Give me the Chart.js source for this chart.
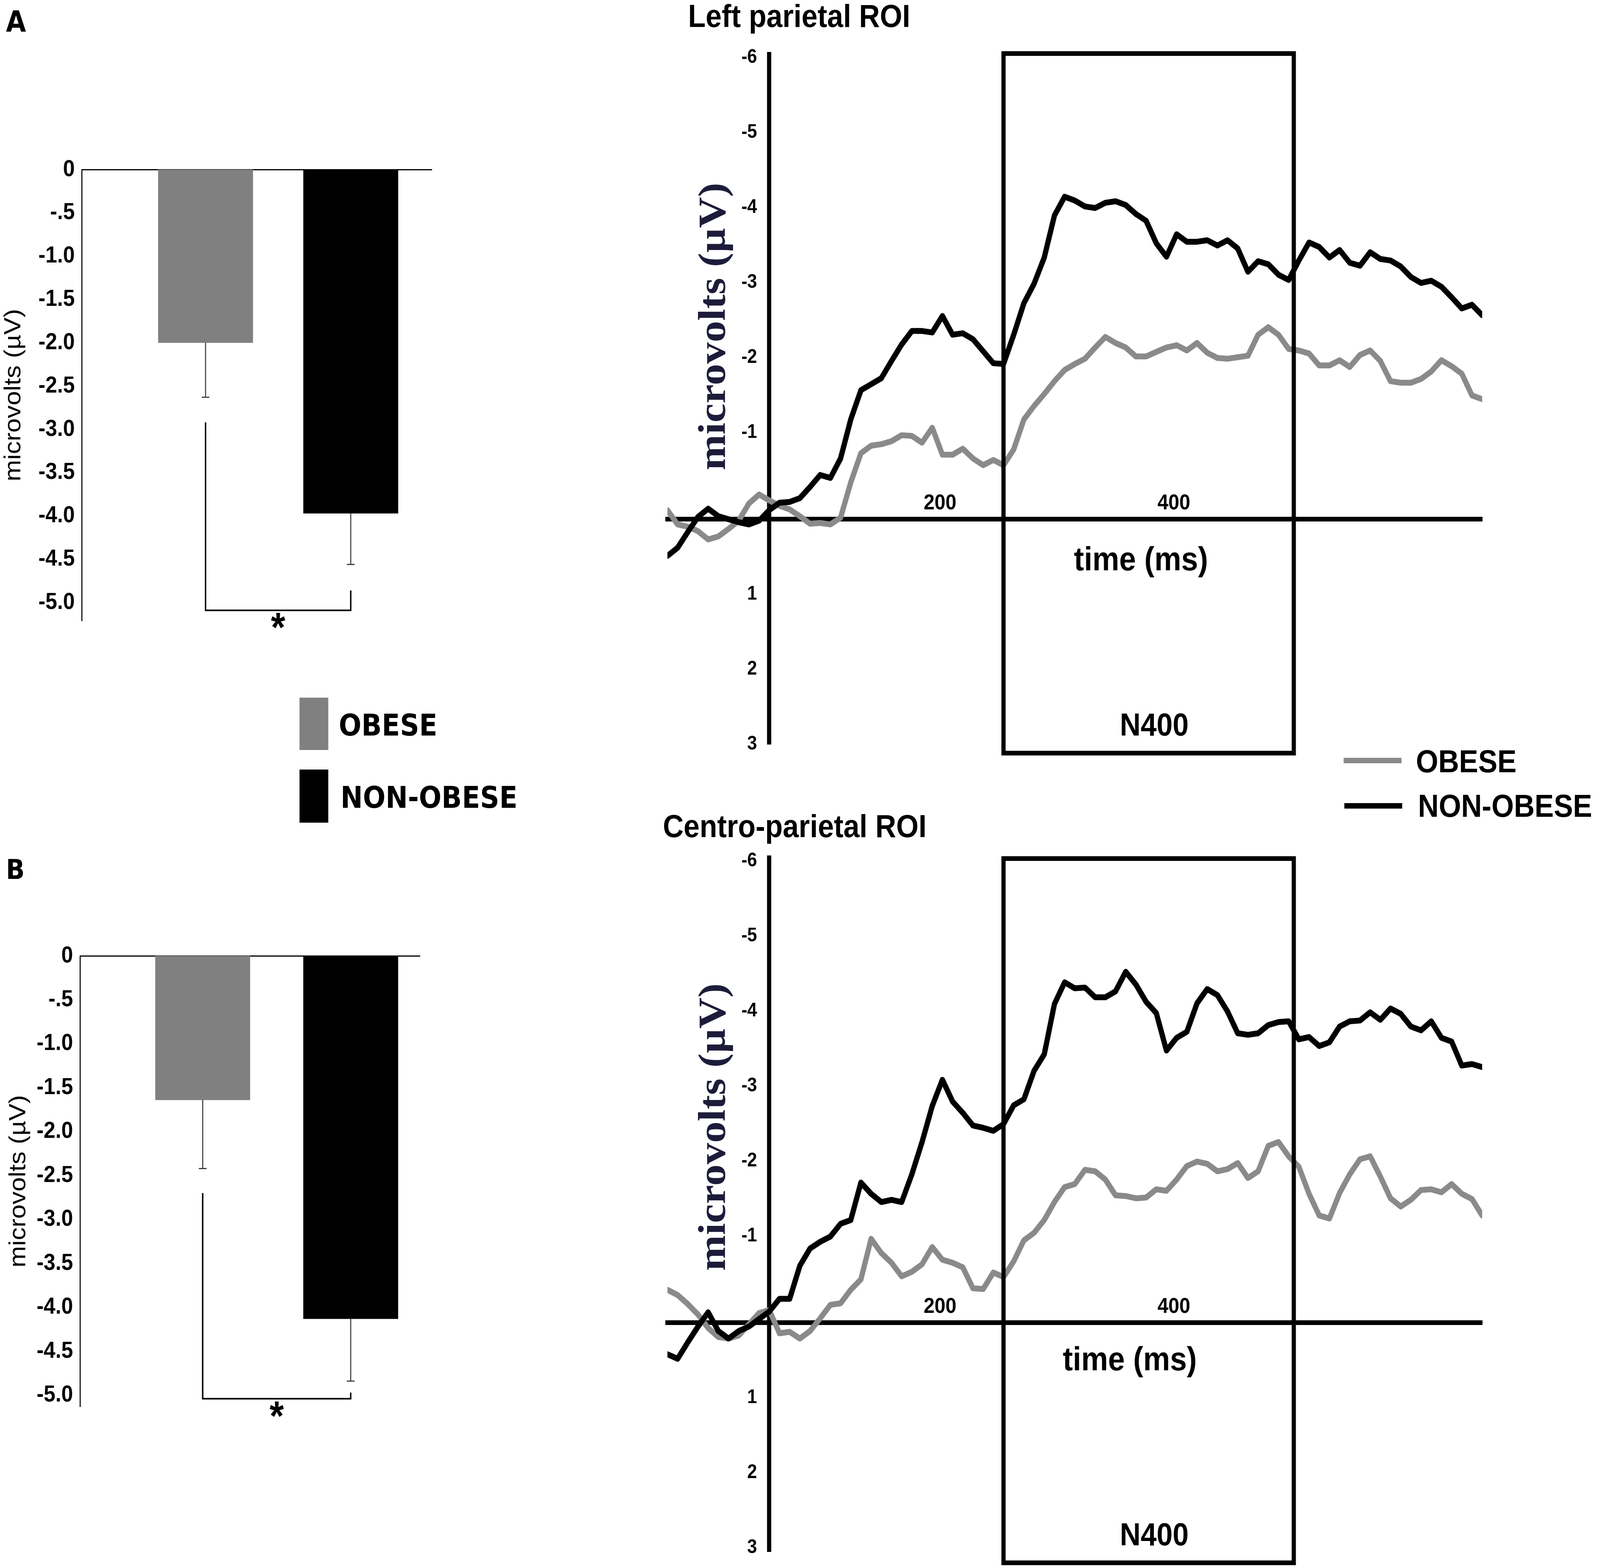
<!DOCTYPE html>
<html>
<head>
<meta charset="utf-8">
<title>N400 amplitude: obese vs non-obese</title>
<script src="https://cdn.jsdelivr.net/npm/chart.js@4.4.1/dist/chart.umd.min.js"></script>
<style>
  html, body { margin: 0; padding: 0; background: #fff; overflow: hidden; }
  body { position: relative; width: 4562px; height: 4009px; }
  #page { position: absolute; left: 0; top: 0; width: 4562px; height: 4009px; transform-origin: 0 0; }
  canvas { position: absolute; }
  .txt { position: absolute; white-space: nowrap; line-height: 1; font-weight: bold; color: #000;
         font-family: "Liberation Sans", Arial, sans-serif; }
  .heavy { font-family: "DejaVu Sans", Verdana, sans-serif; }
  .swatch, .stroke { position: absolute; }
</style>
</head>
<body>
<div id="page">
<div class="txt heavy" style="left:17px;top:18px;font-size:74px">A</div>
<div class="txt heavy" style="left:17px;top:2191px;font-size:70px">B</div>
<div class="txt" style="left:1962px;top:0px;font-size:82px">Left parietal ROI</div>
<div class="txt" style="left:1890px;top:2074px;font-size:82px">Centro-parietal ROI</div>

<!-- bar legend -->
<div class="swatch" id="sw0" style="left:854px;top:1786px;width:82px;height:134px"></div>
<div class="txt heavy" id="lg0" style="left:966px;top:1819px;font-size:76px"></div>
<div class="swatch" id="sw1" style="left:854px;top:1970px;width:82px;height:136px"></div>
<div class="txt heavy" id="lg1" style="left:971px;top:2004px;font-size:76px"></div>

<!-- line legend -->
<div class="stroke" id="ln0" style="left:3831px;top:1940px;width:165px;height:14px"></div>
<div class="txt" id="ll0" style="left:4037px;top:1908px;font-size:82px"></div>
<div class="stroke" id="ln1" style="left:3833px;top:2056px;width:165px;height:14px"></div>
<div class="txt" id="ll1" style="left:4043px;top:2022px;font-size:82px"></div>

<canvas id="barA" width="1300" height="1400" style="left:0px;top:300px;width:1300px;height:1400px"></canvas>
<canvas id="barB" width="1286" height="1600" style="left:14px;top:2100px;width:1286px;height:1600px"></canvas>
<canvas id="erpA" width="2430" height="2000" style="left:1850px;top:0px;width:2430px;height:2000px"></canvas>
<canvas id="erpB" width="2430" height="1959" style="left:1850px;top:2050px;width:2430px;height:1959px"></canvas>
</div>

<script>
// the figure is laid out on a 4562 x 4009 sheet; stretch it over whatever the window gives
const sx = window.innerWidth / 4562, sy = window.innerHeight / 4009;
document.getElementById('page').style.transform = 'scale(' + sx + ',' + sy + ')';
document.body.style.width = window.innerWidth + 'px';
document.body.style.height = window.innerHeight + 'px';

Chart.defaults.font.family = '"Liberation Sans", Arial, sans-serif';
Chart.defaults.color = '#000';

const groups = ['OBESE', 'NON-OBESE'];
const barColors = ['#808080', '#000000'];
const lineColors = ['#8a8a8a', '#000000'];

// mean N400 amplitude (µV) with lower end of the error bar
const meanLeft = [-2.0, -3.97];
const errLeft = [-2.63, -4.56];
const meanCentro = [-1.64, -4.13];
const errCentro = [-2.42, -4.84];
// significance bracket: left top, right top, base
const sigLeft = [-2.92, -4.86, -5.09];
const sigCentro = [-2.70, -4.97, -5.04];

const barTicks = [0, -0.5, -1.0, -1.5, -2.0, -2.5, -3.0, -3.5, -4.0, -4.5, -5.0];
const barTickLabels = ['0', '-.5', '-1.0', '-1.5', '-2.0', '-2.5', '-3.0', '-3.5', '-4.0', '-4.5', '-5.0'];

// ERP waveforms, time in ms
const times = [
  -100, -90, -80, -70, -60, -50, -40, -30, -20, -10,
  0, 10, 20, 30, 40, 50, 60, 70, 80, 90,
  100, 110, 120, 130, 140, 150, 160, 170, 180, 190,
  200, 210, 220, 230, 240, 250, 260, 270, 280, 290,
  300, 310, 320, 330, 340, 350, 360, 370, 380, 390,
  400, 410, 420, 430, 440, 450, 460, 470, 480, 490,
  500, 510, 520, 530, 540, 550, 560, 570, 580, 590,
  600, 610, 620, 630, 640, 650, 660, 670, 680, 690,
  700
];
const leftObese = [
  -0.12, 0.07, 0.10, 0.16, 0.27, 0.23, 0.13, 0.02, -0.21, -0.33,
  -0.25, -0.18, -0.13, -0.04, 0.06, 0.05, 0.07, -0.02, -0.49, -0.88,
  -0.98, -1.00, -1.04, -1.12, -1.11, -1.02, -1.22, -0.86, -0.86, -0.94,
  -0.81, -0.72, -0.79, -0.72, -0.93, -1.33, -1.51, -1.67, -1.84, -1.99,
  -2.07, -2.14, -2.29, -2.43, -2.35, -2.29, -2.17, -2.17, -2.23, -2.29,
  -2.32, -2.25, -2.35, -2.22, -2.15, -2.14, -2.16, -2.18, -2.46, -2.56,
  -2.46, -2.27, -2.25, -2.21, -2.05, -2.05, -2.12, -2.03, -2.19, -2.25,
  -2.11, -1.84, -1.82, -1.82, -1.87, -1.97, -2.12, -2.04, -1.94, -1.65,
  -1.60
];
const leftNonObese = [
  0.49, 0.38, 0.17, -0.03, -0.14, -0.04, 0.00, 0.04, 0.07, 0.02,
  -0.12, -0.22, -0.23, -0.28, -0.43, -0.59, -0.55, -0.81, -1.33, -1.72,
  -1.80, -1.88, -2.11, -2.33, -2.51, -2.51, -2.49, -2.71, -2.46, -2.48,
  -2.40, -2.24, -2.08, -2.07, -2.46, -2.88, -3.14, -3.49, -4.05, -4.30,
  -4.25, -4.17, -4.15, -4.22, -4.24, -4.19, -4.07, -3.98, -3.68, -3.50,
  -3.80, -3.70, -3.70, -3.72, -3.65, -3.72, -3.61, -3.30, -3.44, -3.40,
  -3.26, -3.19, -3.45, -3.69, -3.63, -3.49, -3.59, -3.42, -3.38, -3.56,
  -3.47, -3.45, -3.37, -3.23, -3.15, -3.18, -3.10, -2.96, -2.81, -2.86,
  -2.72
];
const centroObese = [
  -0.44, -0.37, -0.25, -0.11, 0.07, 0.19, 0.21, 0.17, 0.02, -0.13,
  -0.17, 0.14, 0.12, 0.21, 0.11, -0.06, -0.24, -0.26, -0.44, -0.58,
  -1.12, -0.93, -0.80, -0.62, -0.68, -0.78, -1.01, -0.84, -0.80, -0.74,
  -0.46, -0.45, -0.67, -0.61, -0.82, -1.10, -1.20, -1.37, -1.61, -1.81,
  -1.85, -2.04, -2.02, -1.91, -1.70, -1.69, -1.66, -1.67, -1.78, -1.76,
  -1.91, -2.09, -2.15, -2.12, -2.02, -2.05, -2.13, -1.93, -2.02, -2.36,
  -2.41, -2.22, -2.08, -1.72, -1.43, -1.39, -1.73, -1.98, -2.18, -2.22,
  -1.95, -1.66, -1.55, -1.64, -1.77, -1.78, -1.74, -1.85, -1.72, -1.65,
  -1.43
];
const centroNonObese = [
  0.42, 0.48, 0.26, 0.05, -0.14, 0.11, 0.21, 0.11, 0.05, -0.05,
  -0.15, -0.32, -0.32, -0.76, -0.99, -1.08, -1.15, -1.32, -1.37, -1.87,
  -1.72, -1.61, -1.64, -1.61, -1.98, -2.41, -2.89, -3.24, -2.95, -2.80,
  -2.63, -2.60, -2.56, -2.65, -2.90, -2.98, -3.36, -3.58, -4.25, -4.54,
  -4.46, -4.47, -4.34, -4.34, -4.42, -4.68, -4.51, -4.28, -4.13, -3.63,
  -3.80, -3.88, -4.26, -4.45, -4.37, -4.15, -3.86, -3.84, -3.86, -3.97,
  -4.01, -4.02, -3.78, -3.81, -3.69, -3.74, -3.95, -4.02, -4.03, -4.14,
  -4.04, -4.19, -4.12, -3.95, -3.90, -4.02, -3.80, -3.75, -3.43, -3.45,
  -3.41
];
const erpTicksX = [200, 400];
const erpTicksNeg = [-6, -5, -4, -3, -2, -1];
const erpTicksPos = [1, 2, 3];
const n400Window = [230, 515];

// legends
groups.forEach((g, i) => {
  document.getElementById('sw' + i).style.background = barColors[i];
  document.getElementById('lg' + i).textContent = g;
  document.getElementById('ln' + i).style.background = lineColors[i];
  document.getElementById('ll' + i).textContent = g;
});

function barMarks(means, errs, sig) {
  return {
    id: 'barMarks',
    afterDatasetsDraw(chart) {
      const ctx = chart.ctx;
      const x = chart.scales.x, y = chart.scales.y;
      ctx.save();
      ctx.strokeStyle = '#3c3c3c';
      ctx.lineWidth = 3;
      means.forEach((m, i) => {
        const px = x.getPixelForValue(i + 1);
        const yEnd = y.getPixelForValue(errs[i]);
        ctx.beginPath();
        ctx.moveTo(px, y.getPixelForValue(m));
        ctx.lineTo(px, yEnd);
        ctx.moveTo(px - 11, yEnd);
        ctx.lineTo(px + 11, yEnd);
        ctx.stroke();
      });
      const xl = x.getPixelForValue(1), xr = x.getPixelForValue(2);
      const yb = y.getPixelForValue(sig[2]);
      ctx.strokeStyle = '#000';
      ctx.lineWidth = 4;
      ctx.beginPath();
      ctx.moveTo(xl, y.getPixelForValue(sig[0]));
      ctx.lineTo(xl, yb);
      ctx.lineTo(xr, yb);
      ctx.lineTo(xr, y.getPixelForValue(sig[1]));
      ctx.stroke();
      ctx.fillStyle = '#000';
      ctx.font = 'bold 105px "Liberation Sans", Arial, sans-serif';
      ctx.textAlign = 'center';
      ctx.textBaseline = 'alphabetic';
      ctx.fillText('*', (xl + xr) / 2, yb + 80);
      ctx.restore();
    }
  };
}

function barChart(id, means, errs, sig, yMin, xMin, xMax, axisWidth, padding) {
  return new Chart(document.getElementById(id), {
    type: 'bar',
    data: {
      datasets: [{
        data: means.map((v, i) => ({x: i + 1, y: v})),
        backgroundColor: barColors,
        barThickness: 270
      }]
    },
    options: {
      responsive: false,
      animation: false,
      devicePixelRatio: 1,
      layout: {padding: padding},
      plugins: {legend: {display: false}, tooltip: {enabled: false}},
      scales: {
        x: {
          type: 'linear', position: 'top', min: xMin, max: xMax, offset: false,
          grid: {display: false, drawTicks: false},
          ticks: {display: false},
          border: {color: '#000', width: 3},
          afterFit: s => { s.height = 0; }
        },
        y: {
          type: 'linear', min: yMin, max: 0,
          grid: {display: false, drawTicks: false},
          border: {color: '#000', width: 3},
          afterBuildTicks: s => { s.ticks = barTicks.slice().sort((a, b) => a - b).map(v => ({value: v})); },
          ticks: {
            callback: v => barTickLabels[barTicks.indexOf(v)],
            font: {size: 60, weight: 'bold'},
            color: '#000',
            padding: 20
          },
          title: {display: true, text: 'microvolts (µV)', font: {size: 66, weight: 'normal'}, color: '#000', padding: 0},
          afterFit: s => { s.width = axisWidth; }
        }
      }
    },
    plugins: [barMarks(means, errs, sig)]
  });
}

function erpMarks(m) {
  return {
    id: 'erpMarks',
    afterDraw(chart) {
      const ctx = chart.ctx;
      const x = chart.scales.x, y = chart.scales.y;
      ctx.save();
      const x0 = x.getPixelForValue(n400Window[0]), x1 = x.getPixelForValue(n400Window[1]);
      const y0 = y.getPixelForValue(m.boxY[0]), y1 = y.getPixelForValue(m.boxY[1]);
      ctx.strokeStyle = '#000';
      ctx.lineWidth = 12;
      ctx.strokeRect(x0, y0, x1 - x0, y1 - y0);
      ctx.fillStyle = '#000';
      ctx.textAlign = 'center';
      ctx.textBaseline = 'middle';
      ctx.font = 'bold 82px "Liberation Sans", Arial, sans-serif';
      ctx.fillText('N400', x.getPixelForValue(m.n400At[0]), y.getPixelForValue(m.n400At[1]));
      ctx.font = 'bold 86px "Liberation Sans", Arial, sans-serif';
      ctx.fillText('time (ms)', x.getPixelForValue(m.timeAt[0]), y.getPixelForValue(m.timeAt[1]));
      ctx.translate(x.getPixelForValue(0) - 155, y.getPixelForValue(m.yTitleAt));
      ctx.rotate(-Math.PI / 2);
      ctx.font = 'bold 110px "Liberation Serif", "Times New Roman", serif';
      ctx.fillStyle = '#1c1c3a';
      ctx.fillText('microvolts (µV)', 0, 0);
      ctx.restore();
    }
  };
}

function erpChart(id, obese, nonObese, yMax, padding, marks) {
  const line = (vals, color) => ({
    data: times.map((t, i) => ({x: t, y: vals[i]})),
    borderColor: color,
    borderWidth: 15,
    pointRadius: 0,
    tension: 0,
    borderJoinStyle: 'round',
    borderCapStyle: 'round'
  });
  const noGrid = {display: false, drawTicks: false};
  const tickFont = {size: 50, weight: 'bold'};
  // labels of a centred axis sit on the line, so keep a gap after the number
  const gap = v => v + '\u2002\u2009';
  const timeAxis = (vals, offset, border) => ({
    type: 'linear', min: -100, max: 700, position: {y: 0},
    grid: noGrid,
    border: border ? {color: '#000', width: 12} : {display: false},
    afterBuildTicks: s => { s.ticks = vals.map(v => ({value: v})); },
    ticks: {font: {size: 56, weight: 'bold'}, color: '#000', padding: -74, labelOffset: offset,
            maxRotation: 0, autoSkip: false}
  });
  const voltAxis = (vals, offset, border) => ({
    type: 'linear', min: -6.2, max: yMax, reverse: true, position: {x: 0},
    grid: noGrid,
    border: border ? {color: '#000', width: 12} : {display: false},
    afterBuildTicks: s => { s.ticks = vals.map(v => ({value: v})); },
    ticks: {font: tickFont, color: '#000', labelOffset: offset, autoSkip: false, callback: gap}
  });
  return new Chart(document.getElementById(id), {
    type: 'line',
    data: {datasets: [line(nonObese, lineColors[1]), line(obese, lineColors[0])]},
    options: {
      responsive: false,
      animation: false,
      devicePixelRatio: 1,
      layout: {padding: padding},
      plugins: {legend: {display: false}, tooltip: {enabled: false}},
      scales: {
        // the printed figure places its "200" label well left of its tick
        x: timeAxis([erpTicksX[1]], -8, true),
        x200: timeAxis([erpTicksX[0]], -94, false),
        y: voltAxis(erpTicksNeg, -30, true),
        yPos: voltAxis(erpTicksPos, 0, false)
      }
    },
    plugins: [erpMarks(marks)]
  });
}

barChart('barA', meanLeft, errLeft, sigLeft, -5.21, 0.147, 2.558, 233, {left: 0, top: 134, right: 69, bottom: 111});
barChart('barB', meanCentro, errCentro, sigCentro, -5.13, 0.171, 2.467, 214, {left: 0, top: 347, right: 103, bottom: 99});

erpChart('erpA', leftObese, leftNonObese, 3.0, {left: 53, top: 139, right: 54, bottom: 95},
  {boxY: [-6.21, 3.12], n400At: [378, 2.77], timeAt: [365, 0.56], yTitleAt: -2.57});
erpChart('erpB', centroObese, centroNonObese, 3.05, {left: 53, top: 146, right: 54, bottom: 37},
  {boxY: [-6.19, 3.2], n400At: [378, 2.85], timeAt: [354, 0.51], yTitleAt: -2.61});
</script>
</body>
</html>
